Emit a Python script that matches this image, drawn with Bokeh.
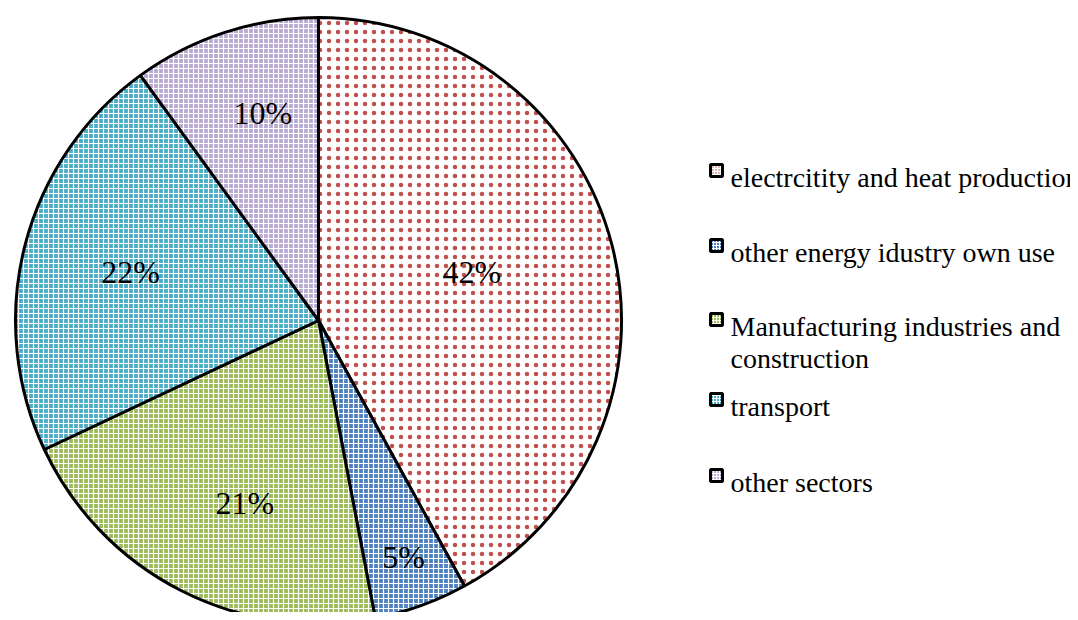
import math
from bokeh.plotting import figure
from bokeh.models import Range1d, ColumnDataSource
from bokeh.core.properties import value
from bokeh.embed import file_html
from bokeh.resources import INLINE

# ---- data ----
categories = ["electrcitity and heat production", "other energy idustry own use",
              "Manufacturing industries and construction", "transport", "other sectors"]
legend_lines = [["electrcitity and heat production"], ["other energy idustry own use"],
                ["Manufacturing industries and", "construction"], ["transport"], ["other sectors"]]
shares = [42, 5, 21, 22, 10]
labels = ["42%", "5%", "21%", "22%", "10%"]

# ---- styles ----
fill_colors = ["white", "#4F81BD", "#9BBB59", "#4BACC6", "#B8AAD0"]
hatch_colors = ["#C0504D", "white", "white", "white", "white"]
hatch_patterns = ["dot", "cross", "cross", "cross", "cross"]
hatch_scales = [9, 5, 5, 5, 5]
hatch_weights = [3.5, 1.2, 1.2, 1.2, 1.2]
label_radius = [0.53, 0.83, 0.65, 0.64, 0.71]
label_angle_shift = [3.0, 0.0, 5.0, 0.0, -3.0]
legend_baseline = [177, 252, 326, 406, 482]  # screen y of first text line

W, H = 1070, 612
p = figure(width=W, height=H, output_backend="svg", toolbar_location=None,
           x_range=Range1d(0, W), y_range=Range1d(620 - H, 620),
           min_border=0, outline_line_color=None)
p.axis.visible = False
p.grid.visible = False

cx, cy, R = 318, 620 - 320, 303
total = sum(shares)
starts, ends, mids = [], [], []
a = 90.0
for s in shares:
    b = a - s / total * 360.0
    starts.append(math.radians(b))
    ends.append(math.radians(a))
    mids.append((a + b) / 2)
    a = b

src = ColumnDataSource(dict(start=starts, end=ends, fill=fill_colors, hc=hatch_colors,
                            hp=hatch_patterns, hs=hatch_scales, hw=hatch_weights))
p.wedge(x=cx, y=cy, radius=R, start_angle="start", end_angle="end", source=src,
        fill_color="fill", hatch_color="hc", hatch_pattern="hp", hatch_scale="hs",
        hatch_weight="hw", line_color="black", line_width=3)

lang = [math.radians(m + d) for m, d in zip(mids, label_angle_shift)]
lx = [cx + R * f * math.cos(t) for f, t in zip(label_radius, lang)]
ly = [cy + R * f * math.sin(t) for f, t in zip(label_radius, lang)]
p.text(x=lx, y=ly, text=labels, text_font=value("Liberation Serif"), text_font_size="32px",
       text_align="center", text_baseline="middle", text_color="black")

# legend
mx = 716
for i, lines in enumerate(legend_lines):
    yb = 620 - legend_baseline[i]
    p.rect(x=[mx], y=[yb + 7], width=12, height=12, fill_color=fill_colors[i],
           hatch_color=hatch_colors[i], hatch_pattern=hatch_patterns[i],
           hatch_scale=3, hatch_weight=1, line_color="black", line_width=3)
    p.text(x=[730] * len(lines), y=[yb - 32 * k for k in range(len(lines))], text=lines,
           text_font=value("Liberation Serif"), text_font_size="28px",
           text_align="left", text_baseline="alphabetic", text_color="black")

open("out.html", "w").write(file_html(p, INLINE))
